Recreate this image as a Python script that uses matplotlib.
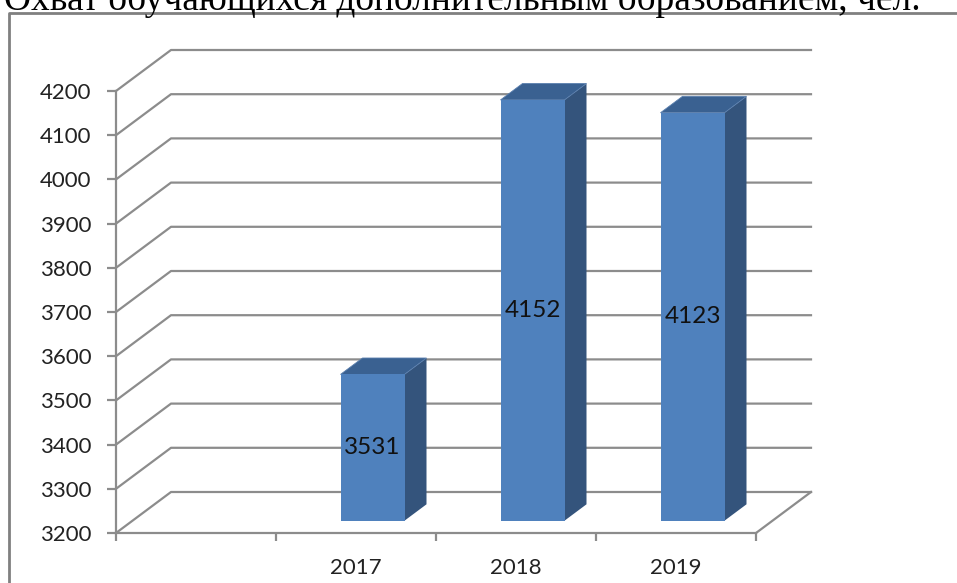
import numpy as np
import matplotlib
matplotlib.use("Agg")
import matplotlib.pyplot as plt
from matplotlib.patches import Polygon
from matplotlib.lines import Line2D
from matplotlib.transforms import Affine2D, IdentityTransform

title = "Охват обучающихся дополнительным образованием, чел."
categories = ["", "2017", "2018", "2019"]
values = [np.nan, 3531, 4152, 4123]
y_ticks = [3200, 3300, 3400, 3500, 3600, 3700, 3800, 3900, 4000, 4100, 4200]

W, H, DPI = 957, 583, 100
DX, DY = 55, 41            # depth of the 3d box, pixels
BAR_W = 0.4
D0, D1 = 0.3, 0.7          # bar position inside the depth
GRID = "#8c8c8c"
FRONT = "#4f81bd"
SIDE = "#34547c"
TOP = "#3a6191"
FONT = "Lato"

fig = plt.figure(figsize=(W / DPI, H / DPI), dpi=DPI)
ax = fig.add_axes([116 / W, 50 / H, 640 / W, 442 / H])
ax.set_xlim(-0.5, len(categories) - 0.5)
ax.set_ylim(y_ticks[0], y_ticks[-1])
ax.patch.set_visible(False)
for s in ["top", "right"]:
    ax.spines[s].set_visible(False)
for s in ["left", "bottom"]:
    ax.spines[s].set_color(GRID)
    ax.spines[s].set_linewidth(1.6)

ax.set_yticks(y_ticks)
ax.set_yticklabels([str(t) for t in y_ticks], fontsize=16, family=FONT, color="#222222")
ax.tick_params(axis="y", direction="out", length=6.5, width=1.6, color=GRID, pad=11)

xs = np.arange(len(categories))
ax.set_xticks(np.arange(len(categories) + 1) - 0.5)
ax.set_xticklabels([])
ax.set_xticks(xs, minor=True)
ax.set_xticklabels(categories, minor=True, fontsize=16, family=FONT, color="#222222")
ax.tick_params(axis="x", which="major", direction="out", length=6, width=1.6, color=GRID)
ax.tick_params(axis="x", which="minor", length=0, pad=18)

ident = IdentityTransform()


def disp(x, v, d):
    p = ax.transData.transform((x, v))
    return (p[0] + d * DX, p[1] + d * DY)


xlo, xhi = ax.get_xlim()
# back wall and left wall grid
for t in y_ticks:
    a, b = disp(xlo, t, 0), disp(xlo, t, 1)
    c = disp(xhi, t, 1)
    ax.add_line(Line2D([a[0], b[0], c[0]], [a[1], b[1], c[1]], transform=ident,
                       color=GRID, lw=1.6, clip_on=False, zorder=0.5))
# floor right edge
a, b = disp(xhi, y_ticks[0], 0), disp(xhi, y_ticks[0], 1)
ax.add_line(Line2D([a[0], b[0]], [a[1], b[1]], transform=ident,
                   color=GRID, lw=1.6, clip_on=False, zorder=0.5))

# bars
base = y_ticks[0]
for x, v in zip(xs, values):
    if np.isnan(v):
        continue
    xl, xr = x - BAR_W / 2, x + BAR_W / 2
    side = [disp(xr, base, D0), disp(xr, v, D0), disp(xr, v, D1), disp(xr, base, D1)]
    top = [disp(xl, v, D0), disp(xr, v, D0), disp(xr, v, D1), disp(xl, v, D1)]
    ax.add_patch(Polygon(side, closed=True, transform=ident, facecolor=SIDE,
                         edgecolor="none", clip_on=False, zorder=2))
    ax.add_patch(Polygon(top, closed=True, transform=ident, facecolor=TOP,
                         edgecolor="#5a7fae", lw=0.6, clip_on=False, zorder=2))

front_tr = ax.transData + Affine2D().translate(D0 * DX, D0 * DY)
bars = ax.bar(xs, np.array(values) - base, bottom=base, width=BAR_W, color=FRONT,
              transform=front_tr, clip_on=False, zorder=3)
for x, v in zip(xs, values):
    if np.isnan(v):
        continue
    ax.text(x, (base + v) / 2, str(v), transform=front_tr, ha="center", va="center",
            fontsize=17.5, family=FONT, color="#111111", zorder=4)

# outer frame of the chart (top and left visible)
fig.add_artist(Line2D([9 / W, 9 / W, 1.0], [0, 1 - 13 / H, 1 - 13 / H],
                      transform=fig.transFigure, color="#808080", lw=2))

# cut off heading above the chart
fig.text(4 / W, 1 - 10 / H, title, family="Liberation Serif", fontsize=27,
         va="baseline", ha="left", color="black")

fig.savefig("out.png", dpi=DPI)
